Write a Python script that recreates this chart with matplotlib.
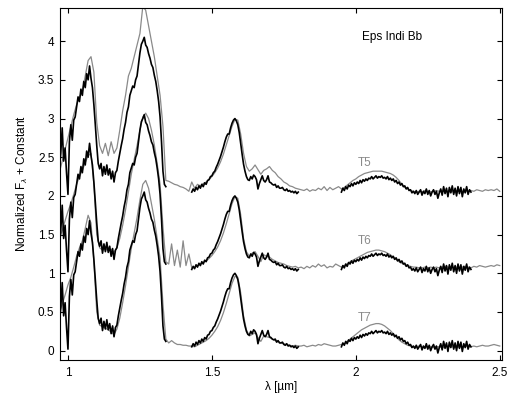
import numpy as np
import matplotlib
matplotlib.use('Agg')
import matplotlib.pyplot as plt

plt.rcParams['font.family'] = ['Liberation Sans', 'DejaVu Sans']
plt.rcParams['mathtext.fontset'] = 'custom'
plt.rcParams['mathtext.rm'] = 'Liberation Sans'
plt.rcParams['mathtext.it'] = 'Liberation Sans:italic'

# ---------------- data ----------------
template_labels = ['T5', 'T6', 'T7']
offsets = [2.0, 1.0, 0.0]

# template spectra (grey), sampled from 0.97 to 2.50 um every 0.01 um
tmpl_start, tmpl_step = 0.97, 0.01
t5 = [0.30, 0.45, 0.60, 0.75, 0.90, 1.05, 1.18, 1.28, 1.35, 1.55,
      1.75, 1.80, 1.60, 0.95, 0.65, 0.55, 0.68, 0.52, 0.70, 0.55,
      0.62, 0.85, 1.10, 1.30, 1.55, 1.65, 1.80, 1.95, 2.10, 2.45,
      2.40, 2.20, 2.00, 1.80, 1.55, 1.30, 0.90, 0.20, 0.19, 0.17,
      0.15, 0.14, 0.12, 0.11, 0.09, 0.06, 0.18, 0.10, 0.15, 0.13,
      0.16, 0.18, 0.21, 0.25, 0.30, 0.36, 0.44, 0.54, 0.66, 0.78,
      0.90, 0.99, 0.98, 0.80, 0.55, 0.38, 0.32, 0.35, 0.40, 0.34,
      0.28, 0.33, 0.35, 0.38, 0.33, 0.30, 0.25, 0.22, 0.18, 0.16,
      0.13, 0.12, 0.10, 0.09, 0.08, 0.07, 0.09, 0.06, 0.08, 0.07,
      0.10, 0.08, 0.12, 0.07, 0.11, 0.08, 0.10, 0.12, 0.09, 0.11,
      0.14, 0.17, 0.20, 0.22, 0.25, 0.27, 0.29, 0.30, 0.31, 0.32,
      0.32, 0.32, 0.32, 0.31, 0.30, 0.29, 0.27, 0.24, 0.20, 0.15,
      0.11, 0.09, 0.07, 0.06, 0.05, 0.06, 0.05, 0.07, 0.06, 0.05,
      0.06, 0.07, 0.06, 0.05, 0.07, 0.06, 0.05, 0.06, 0.07, 0.06,
      0.06, 0.07, 0.06, 0.07, 0.06, 0.08, 0.07, 0.06, 0.08, 0.07,
      0.08, 0.07, 0.09, 0.06]
t6 = [0.45, 0.55, 0.68, 0.80, 0.90, 1.02, 1.15, 1.25, 1.33, 1.43,
      1.52, 1.55, 1.15, 0.50, 0.33, 0.30, 0.32, 0.29, 0.31, 0.27,
      0.33, 0.45, 0.62, 0.82, 1.05, 1.28, 1.47, 1.65, 1.85, 2.02,
      2.07, 2.00, 1.85, 1.66, 1.42, 1.15, 0.60, 0.15, 0.12, 0.38,
      0.10, 0.30, 0.08, 0.42, 0.10, 0.25, 0.07, 0.08, 0.10, 0.12,
      0.14, 0.16, 0.19, 0.23, 0.28, 0.34, 0.42, 0.52, 0.64, 0.77,
      0.90, 0.99, 0.97, 0.76, 0.45, 0.28, 0.22, 0.26, 0.28, 0.22,
      0.15, 0.24, 0.22, 0.21, 0.18, 0.16, 0.14, 0.13, 0.12, 0.10,
      0.09, 0.08, 0.09, 0.07, 0.08, 0.06, 0.09, 0.07, 0.10, 0.08,
      0.12, 0.09, 0.11, 0.07, 0.09, 0.08, 0.12, 0.10, 0.08, 0.10,
      0.12, 0.15, 0.17, 0.19, 0.21, 0.23, 0.25, 0.27, 0.28, 0.29,
      0.30, 0.30, 0.29, 0.28, 0.26, 0.24, 0.21, 0.18, 0.15, 0.13,
      0.11, 0.10, 0.09, 0.08, 0.08, 0.07, 0.07, 0.08, 0.07, 0.08,
      0.07, 0.08, 0.07, 0.08, 0.09, 0.08, 0.07, 0.08, 0.08, 0.07,
      0.08, 0.09, 0.08, 0.07, 0.09, 0.08, 0.10, 0.09, 0.08, 0.09,
      0.10, 0.09, 0.11, 0.10]
t7 = [0.50, 0.60, 0.72, 0.85, 0.95, 1.08, 1.22, 1.33, 1.42, 1.58,
      1.75, 1.65, 1.15, 0.50, 0.33, 0.31, 0.29, 0.27, 0.24, 0.21,
      0.28, 0.42, 0.62, 0.84, 1.08, 1.32, 1.52, 1.72, 1.95, 2.15,
      2.20, 2.10, 1.90, 1.70, 1.45, 1.20, 0.60, 0.15, 0.10, 0.13,
      0.10, 0.08, 0.08, 0.07, 0.07, 0.06, 0.06, 0.05, 0.07, 0.09,
      0.11, 0.13, 0.16, 0.20, 0.25, 0.31, 0.39, 0.49, 0.61, 0.74,
      0.87, 0.96, 0.95, 0.75, 0.45, 0.27, 0.19, 0.21, 0.23, 0.17,
      0.12, 0.19, 0.18, 0.17, 0.15, 0.13, 0.12, 0.10, 0.09, 0.08,
      0.07, 0.06, 0.07, 0.06, 0.06, 0.07, 0.05, 0.06, 0.07, 0.06,
      0.08, 0.07, 0.09, 0.08, 0.07, 0.06, 0.06, 0.07, 0.08, 0.09,
      0.12, 0.15, 0.18, 0.21, 0.24, 0.27, 0.29, 0.31, 0.33, 0.34,
      0.35, 0.35, 0.34, 0.32, 0.29, 0.26, 0.22, 0.18, 0.14, 0.11,
      0.09, 0.07, 0.06, 0.05, 0.05, 0.06, 0.05, 0.04, 0.05, 0.05,
      0.04, 0.05, 0.05, 0.04, 0.05, 0.06, 0.05, 0.05, 0.04, 0.05,
      0.05, 0.06, 0.05, 0.05, 0.06, 0.05, 0.06, 0.07, 0.06, 0.06,
      0.07, 0.08, 0.07, 0.06]
templates = [t5, t6, t7]

# Eps Indi Bb spectrum (black), three bands, sampled every 0.005 um
obj_step = 0.005
obj_j_start = 0.970
obj_j = [0.35, 0.55, 0.88, 0.45, 0.62, 0.30, 0.02,
         0.70, 0.92, 0.72, 0.98, 1.02, 1.15, 1.28, 1.22, 1.38, 1.30,
         1.48, 1.40, 1.58, 1.50, 1.68, 1.52, 1.40, 1.18, 0.92, 0.65,
         0.42, 0.35, 0.42, 0.26, 0.38, 0.28, 0.40, 0.27, 0.35, 0.22,
         0.32, 0.18, 0.30, 0.33, 0.45, 0.55, 0.65, 0.74, 0.86, 0.95,
         1.08, 1.15, 1.30, 1.36, 1.42, 1.40, 1.50, 1.55, 1.70, 1.85,
         1.96, 2.00, 2.05, 1.95, 1.92, 1.84, 1.78, 1.70, 1.66, 1.56,
         1.48, 1.36, 1.22, 1.02, 0.70, 0.32, 0.15, 0.12]
obj_h_start = 1.430
obj_h = [0.05, 0.09, 0.06, 0.11, 0.08, 0.13, 0.10, 0.15, 0.12, 0.17,
         0.15, 0.20, 0.21, 0.25, 0.26, 0.30, 0.32, 0.37, 0.41, 0.46,
         0.51, 0.57, 0.63, 0.70, 0.76, 0.80, 0.80, 0.88, 0.94, 0.98,
         1.00, 0.97, 0.92, 0.82, 0.68, 0.54, 0.41, 0.32, 0.25, 0.21,
         0.20, 0.25, 0.22, 0.27, 0.25, 0.21, 0.09, 0.16, 0.21, 0.26,
         0.20, 0.18, 0.21, 0.26, 0.18, 0.17, 0.15, 0.14, 0.15, 0.11,
         0.13, 0.10, 0.10, 0.11, 0.08, 0.07, 0.09, 0.06, 0.07, 0.05,
         0.06, 0.04, 0.06, 0.03, 0.05]
obj_k_start = 1.950
obj_k = [0.05, 0.10, 0.07, 0.12, 0.09, 0.14, 0.12, 0.16, 0.13, 0.17,
         0.15, 0.18, 0.16, 0.20, 0.17, 0.21, 0.19, 0.22, 0.20, 0.23,
         0.22, 0.25, 0.22, 0.24, 0.26, 0.23, 0.25, 0.24, 0.26, 0.23,
         0.24, 0.22, 0.25, 0.21, 0.23, 0.20, 0.22, 0.18, 0.20, 0.16,
         0.18, 0.14, 0.16, 0.12, 0.13, 0.09, 0.11, 0.07, 0.08, 0.04,
         0.06, 0.03, 0.07, 0.02, 0.05, 0.08, 0.01, 0.06, 0.03, 0.09,
         0.02, 0.07, 0.00, 0.05, 0.08, 0.02, 0.06, -0.03, 0.04, 0.09,
         0.01, 0.12, 0.03, 0.10, -0.01, 0.11, 0.04, 0.13, 0.02, 0.10,
         0.00, 0.12, 0.03, 0.11, -0.01, 0.09, 0.04, 0.12, 0.02, 0.08,
         0.05]
object_name = 'Eps Indi Bb'

x_ticks = [1.0, 1.5, 2.0, 2.5]
x_tick_labels = ['1', '1.5', '2', '2.5']
y_ticks = [0, 0.5, 1, 1.5, 2, 2.5, 3, 3.5, 4]
y_tick_labels = ['0', '0.5', '1', '1.5', '2', '2.5', '3', '3.5', '4']

# ---------------- plot ----------------
grey = '#8a8a8a'
fig = plt.figure(figsize=(5.12, 3.96), dpi=100)
ax = fig.add_axes([0.117, 0.091, 0.863, 0.889])

tmpl_wl = tmpl_start + tmpl_step * np.arange(len(t7))
segments = [(obj_j_start, obj_j), (obj_h_start, obj_h), (obj_k_start, obj_k)]

for lab, off, tmpl in zip(template_labels, offsets, templates):
    ax.plot(tmpl_wl, np.array(tmpl) + off, color=grey, lw=0.9, zorder=2)
    for start, vals in segments:
        wl = start + obj_step * np.arange(len(vals))
        ax.plot(wl, np.array(vals) + off, color='black', lw=1.2, zorder=3)
    ax.text(2.03, off + 0.42, lab, color=grey, ha='center', va='center',
            fontsize=8.5)

ax.text(2.125, 4.05, object_name, ha='center', va='center', fontsize=8.5)

ax.set_xlim(0.972, 2.507)
ax.set_ylim(-0.12, 4.43)
ax.set_xticks(x_ticks)
ax.set_xticklabels(x_tick_labels)
ax.set_yticks(y_ticks)
ax.set_yticklabels(y_tick_labels)
ax.tick_params(direction='in', top=True, right=True, length=3.5, width=0.8,
               labelsize=8.5)
ax.tick_params(axis='x', pad=5)
ax.tick_params(axis='y', pad=4)
for s in ax.spines.values():
    s.set_linewidth(0.8)
ax.set_xlabel('λ [µm]', fontsize=8.5, labelpad=1.5)
ax.set_ylabel(r'Normalized F$_\lambda$ + Constant', fontsize=8.5, labelpad=6)

fig.savefig('out.png', dpi=100)
